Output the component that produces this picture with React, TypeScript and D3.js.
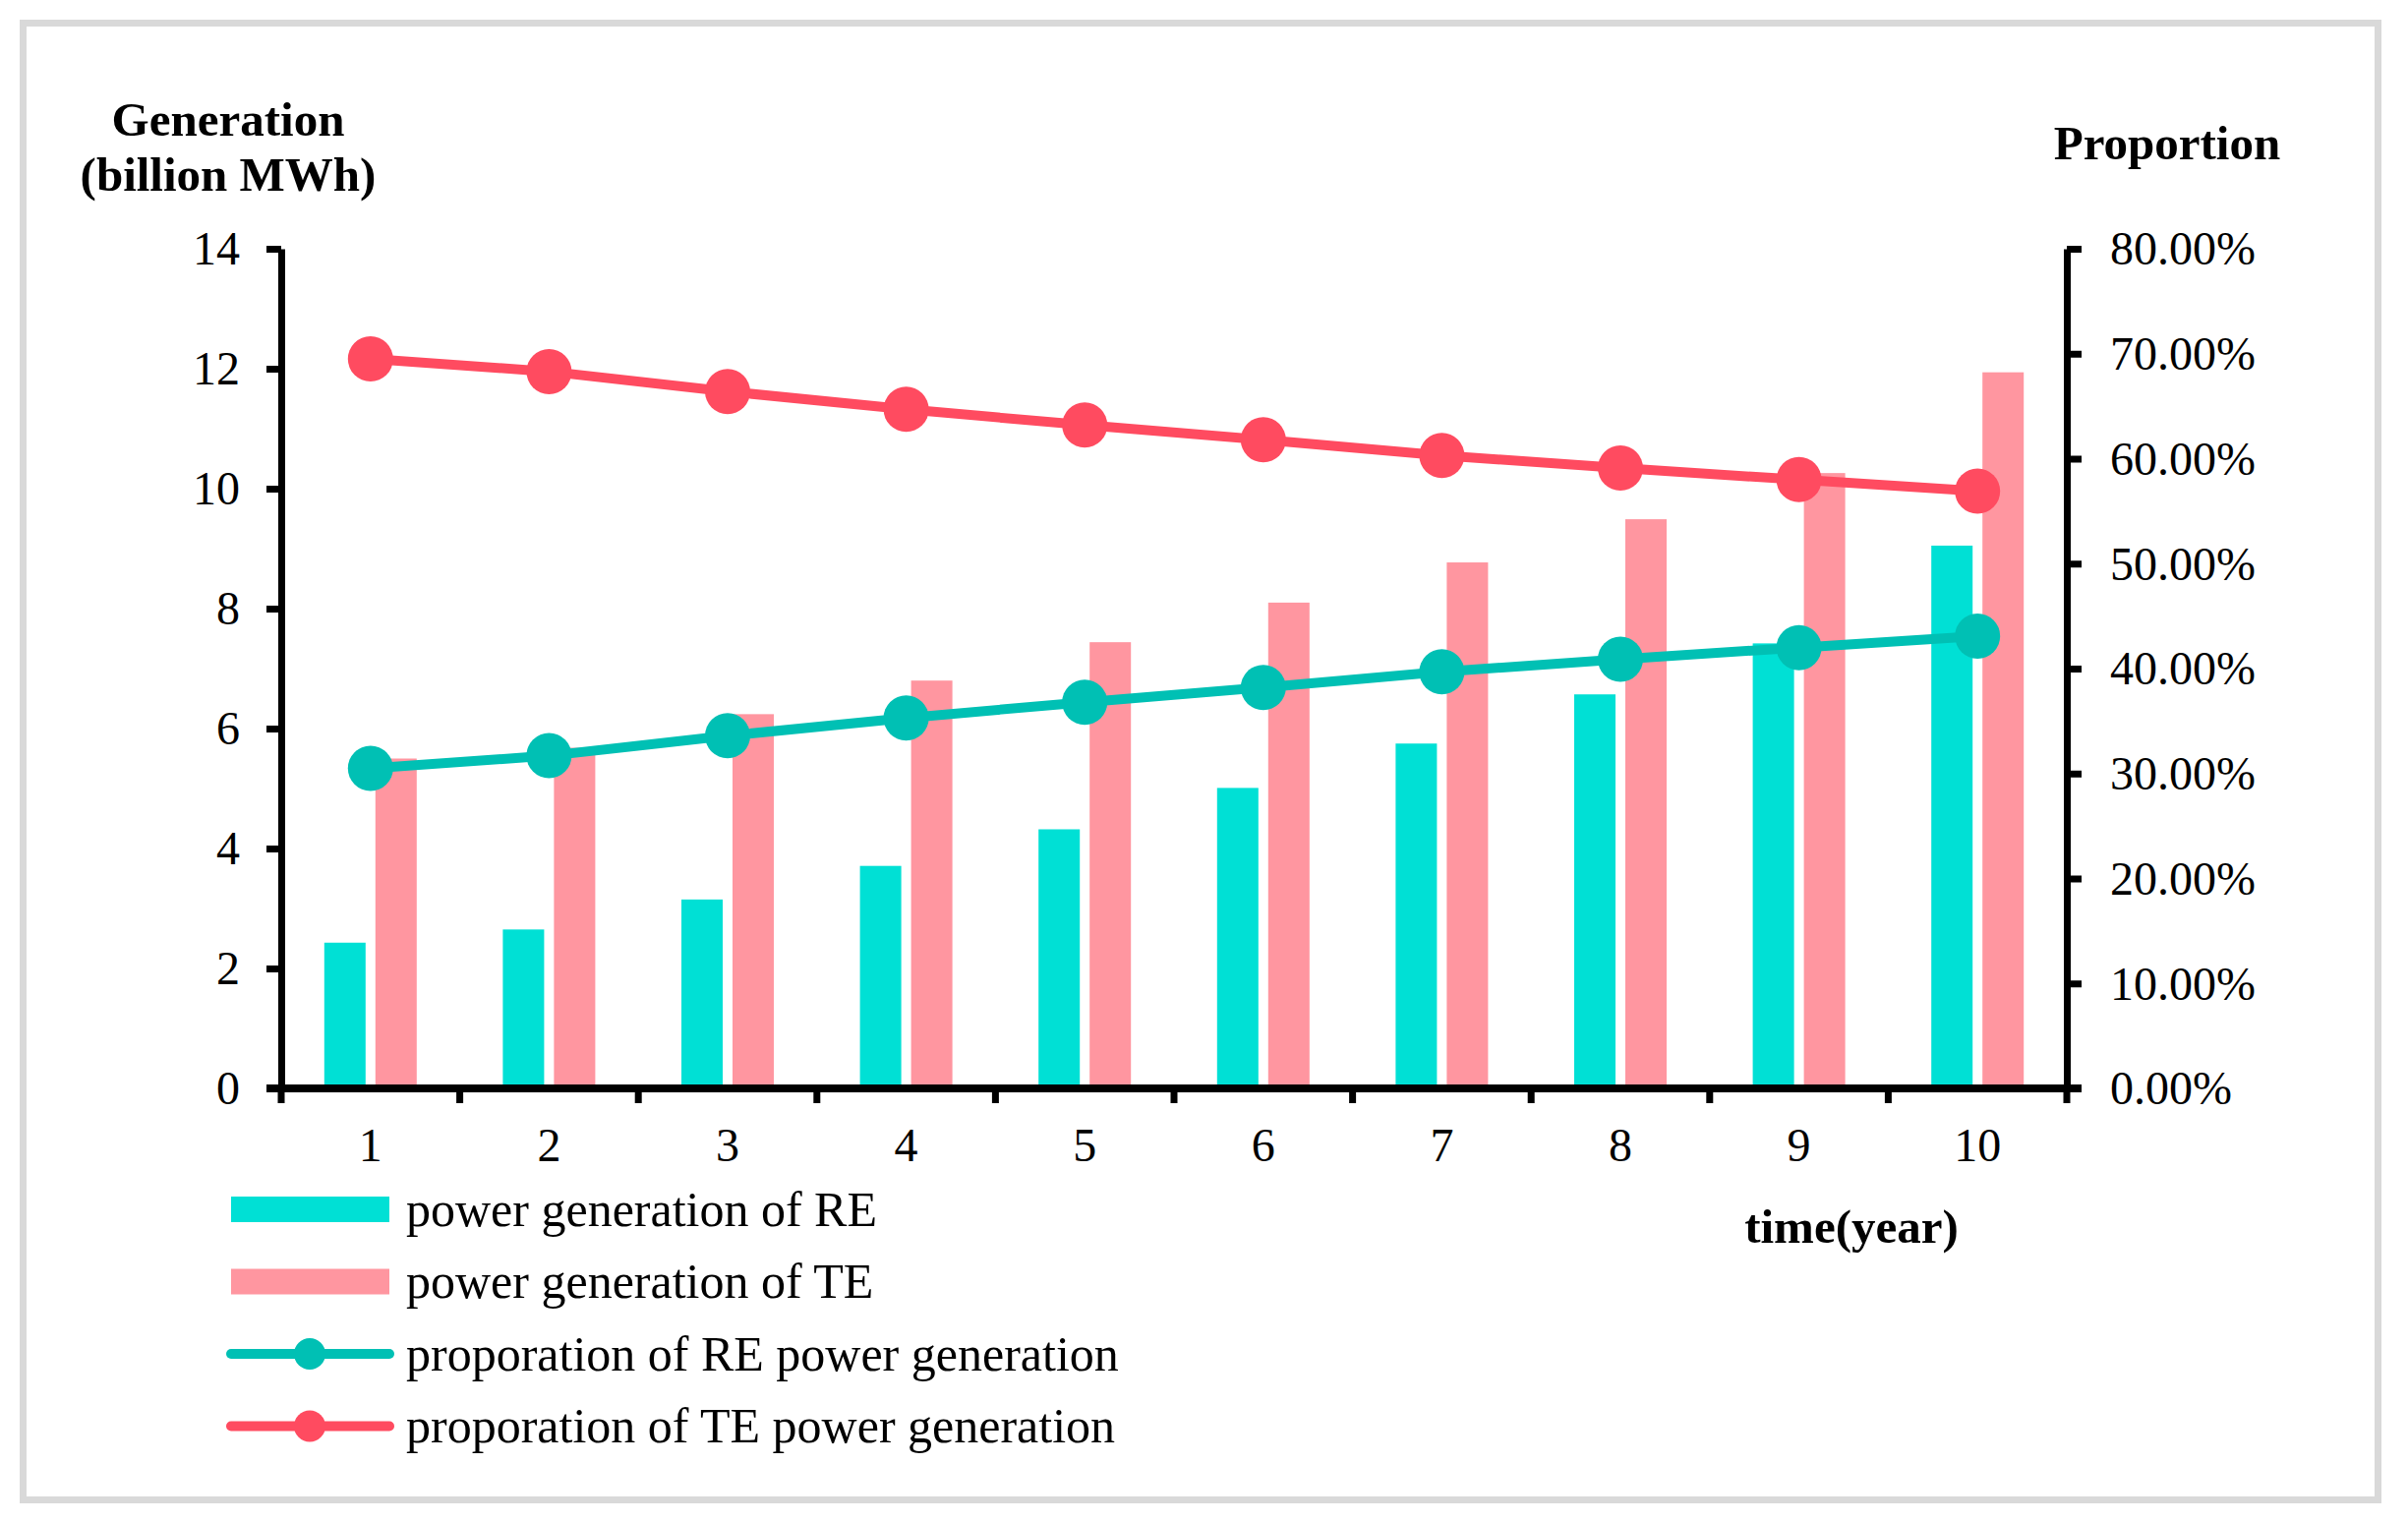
import React, { useEffect, useRef } from 'react';
import * as d3 from 'd3';

const years = ['1', '2', '3', '4', '5', '6', '7', '8', '9', '10'];
const reGeneration = [2.43, 2.65, 3.15, 3.71, 4.32, 5.01, 5.75, 6.57, 7.42, 9.05];
const teGeneration = [5.5, 5.68, 6.24, 6.8, 7.44, 8.1, 8.77, 9.49, 10.26, 11.94];
const reProportion = [0.305, 0.317, 0.336, 0.353, 0.368, 0.382, 0.397, 0.409, 0.42, 0.431];
const teProportion = [0.695, 0.683, 0.664, 0.647, 0.632, 0.618, 0.603, 0.591, 0.58, 0.569];
const leftTicks = [0, 2, 4, 6, 8, 10, 12, 14];
const rightTicks = [0, 0.1, 0.2, 0.3, 0.4, 0.5, 0.6, 0.7, 0.8];

const legendItems = [
  { label: 'power generation of RE', kind: 'bar', color: '#00E0D5' },
  { label: 'power generation of TE', kind: 'bar', color: '#FF96A0' },
  { label: 'proporation of RE power generation', kind: 'line', color: '#00C0B4' },
  { label: 'proporation of TE power generation', kind: 'line', color: '#FF4B60' },
];

const W = 2449;
const H = 1548;
const FONT = '"Liberation Serif", "Times New Roman", serif';

export default function App() {
  const svgRef = useRef<SVGSVGElement>(null);

  useEffect(() => {
    if (!svgRef.current) return;
    const svg = d3.select(svgRef.current);
    svg.html('');

    const left = 286, right = 2102, top = 253, bottom = 1107;

    const x = d3.scaleBand<string>().domain(years).range([left, right]).padding(0);
    const yL = d3.scaleLinear().domain([0, 14]).range([bottom, top]);
    const yR = d3.scaleLinear().domain([0, 0.8]).range([bottom, top]);

    // frame
    svg.append('rect')
      .attr('x', 23.5).attr('y', 23.5)
      .attr('width', 2395).attr('height', 1502)
      .attr('fill', 'none').attr('stroke', '#d9d9d9').attr('stroke-width', 7);

    // bars
    const barW = 42, gap = 10;
    const cx = (d: string) => x(d)! + x.bandwidth() / 2;
    svg.append('g').selectAll('rect')
      .data(years)
      .enter().append('rect')
      .attr('x', d => cx(d) - gap / 2 - barW)
      .attr('y', (d, i) => yL(reGeneration[i]))
      .attr('width', barW)
      .attr('height', (d, i) => bottom - yL(reGeneration[i]))
      .attr('fill', '#00E0D5');
    svg.append('g').selectAll('rect')
      .data(years)
      .enter().append('rect')
      .attr('x', d => cx(d) + gap / 2)
      .attr('y', (d, i) => yL(teGeneration[i]))
      .attr('width', barW)
      .attr('height', (d, i) => bottom - yL(teGeneration[i]))
      .attr('fill', '#FF96A0');

    // axes
    const styleAxis = (g: any) => {
      g.selectAll('path').attr('stroke', '#000').attr('stroke-width', 7);
      g.selectAll('line').attr('stroke', '#000').attr('stroke-width', 7);
      g.selectAll('text').remove();
    };
    svg.append('g')
      .attr('transform', `translate(${left},0)`)
      .call(d3.axisLeft(yL).tickValues(leftTicks).tickSize(15).tickSizeOuter(0))
      .call(styleAxis);
    svg.append('g')
      .attr('transform', `translate(${right},0)`)
      .call(d3.axisRight(yR).tickValues(rightTicks).tickSize(15).tickSizeOuter(0))
      .call(styleAxis);
    const xBounds = years.map(d => x(d)!).concat([right]);
    const xAxisG = svg.append('g');
    xAxisG.append('line')
      .attr('x1', left - 15).attr('x2', right + 15)
      .attr('y1', bottom).attr('y2', bottom)
      .attr('stroke', '#000').attr('stroke-width', 8);
    xAxisG.selectAll('line.tick')
      .data(xBounds)
      .enter().append('line')
      .attr('class', 'tick')
      .attr('x1', d => d).attr('x2', d => d)
      .attr('y1', bottom).attr('y2', bottom + 15)
      .attr('stroke', '#000').attr('stroke-width', 7);

    // tick labels
    const labels = svg.append('g').style('font-family', FONT).style('font-size', '48px').attr('fill', '#000');
    labels.selectAll('text.l')
      .data(leftTicks)
      .enter().append('text')
      .attr('x', 244).attr('y', d => yL(d)).attr('dy', '0.34em')
      .attr('text-anchor', 'end')
      .text(d => d);
    labels.selectAll('text.r')
      .data(rightTicks)
      .enter().append('text')
      .attr('x', 2146).attr('y', d => yR(d)).attr('dy', '0.34em')
      .text(d => d3.format('.2%')(d));
    labels.selectAll('text.x')
      .data(years)
      .enter().append('text')
      .attr('x', d => cx(d)).attr('y', 1181)
      .attr('text-anchor', 'middle')
      .text(d => d);

    // lines
    const drawLine = (vals: number[], color: string) => {
      const line = d3.line<number>()
        .x((d, i) => cx(years[i]))
        .y(d => yR(d));
      svg.append('path')
        .datum(vals)
        .attr('d', line)
        .attr('fill', 'none')
        .attr('stroke', color)
        .attr('stroke-width', 10);
      svg.append('g').selectAll('circle')
        .data(vals)
        .enter().append('circle')
        .attr('cx', (d, i) => cx(years[i]))
        .attr('cy', d => yR(d))
        .attr('r', 23)
        .attr('fill', color);
    };
    drawLine(teProportion, '#FF4B60');
    drawLine(reProportion, '#00C0B4');

    // titles
    const titles = svg.append('g').style('font-family', FONT).style('font-size', '49px')
      .style('font-weight', 'bold').attr('fill', '#000').attr('text-anchor', 'middle');
    titles.append('text').attr('x', 232).attr('y', 138).text('Generation');
    titles.append('text').attr('x', 232).attr('y', 194).text('(billion MWh)');
    titles.append('text').attr('x', 2204).attr('y', 162).text('Proportion');
    titles.append('text').attr('x', 1883).attr('y', 1264).text('time(year)');

    // legend
    const legend = svg.append('g');
    legendItems.forEach((item, i) => {
      const cy = 1230 + i * 73.5;
      if (item.kind === 'bar') {
        legend.append('rect')
          .attr('x', 235).attr('y', cy - 13)
          .attr('width', 161).attr('height', 26)
          .attr('fill', item.color);
      } else {
        legend.append('line')
          .attr('x1', 235).attr('x2', 396)
          .attr('y1', cy).attr('y2', cy)
          .attr('stroke', item.color).attr('stroke-width', 10)
          .attr('stroke-linecap', 'round');
        legend.append('circle')
          .attr('cx', 315).attr('cy', cy).attr('r', 16)
          .attr('fill', item.color);
      }
      legend.append('text')
        .attr('x', 413).attr('y', cy).attr('dy', '0.33em')
        .style('font-family', FONT).style('font-size', '50px')
        .attr('fill', '#000')
        .text(item.label);
    });
  }, []);

  return (
    <svg
      ref={svgRef}
      width={W}
      height={H}
      style={{ position: 'absolute', left: 0, top: 0, background: '#fff' }}
    />
  );
}
